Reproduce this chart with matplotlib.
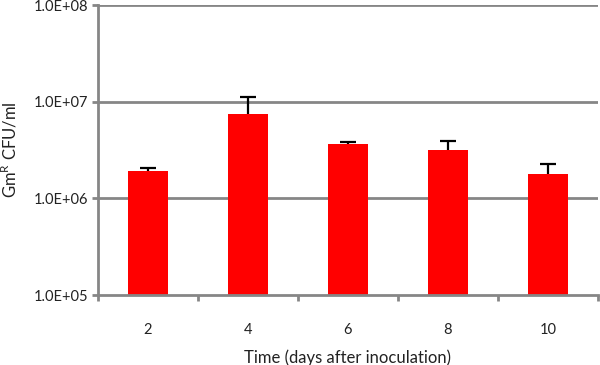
import matplotlib
matplotlib.use("Agg")
import matplotlib.pyplot as plt
import numpy as np
from matplotlib.ticker import FixedLocator, NullLocator

days = ["2", "4", "6", "8", "10"]
means = [1.94e6, 7.5e6, 3.66e6, 3.15e6, 1.78e6]
err_upper = [0.11e6, 3.6e6, 0.21e6, 0.81e6, 0.46e6]
yticks = [1e5, 1e6, 1e7, 1e8]
ytick_labels = ["1.0E+05", "1.0E+06", "1.0E+07", "1.0E+08"]

plt.rcParams['font.family'] = ['Lato', 'DejaVu Sans']
fig = plt.figure(figsize=(6, 3.65), dpi=100)
ax = fig.add_axes([97.7/600, 1-295/365, (598-97.7)/600, (295-5)/365])

x = np.arange(len(days))
gray = "#868686"
ax.set_yscale("log")
ax.set_ylim(1e5, 1e8)
ax.set_xlim(-0.5, len(days)-0.5)
for yv in yticks[1:]:
    ax.axhline(yv, color=gray, lw=2, zorder=1)
ax.bar(x, means, width=0.4, color="#ff0000", zorder=2)
eb = ax.errorbar(x, means, yerr=[np.zeros(len(means)), err_upper], fmt="none",
                 ecolor="black", elinewidth=1.6, capsize=5.8, capthick=1.6, zorder=3)
caps = eb[1]
if len(caps) == 2:
    caps[0].set_visible(False)

ax.yaxis.set_major_locator(FixedLocator(yticks))
ax.yaxis.set_minor_locator(NullLocator())
ax.set_yticklabels(ytick_labels)
ax.set_xticks(x)
ax.set_xticklabels(days)
ax.set_xticks(np.arange(-0.5, len(days)), minor=True)
ax.tick_params(axis="x", which="major", length=0, pad=20, labelsize=10.5, colors="#222222")
ax.tick_params(axis="x", which="minor", length=4, width=2, color=gray)
ax.tick_params(axis="y", which="major", length=4, width=2, color=gray, labelsize=10.5,
               labelcolor="#222222", pad=3)

for s in ["top", "right"]:
    ax.spines[s].set_visible(False)
for s in ["left", "bottom"]:
    ax.spines[s].set_color(gray)
    ax.spines[s].set_linewidth(2)

ax.set_xlabel("Time (days after inoculation)", fontsize=12, color="#222222", labelpad=9)
ax.set_ylabel(r"Gm$^{\mathregular{R}}$ CFU/ml", fontsize=12, color="#222222", labelpad=10)

fig.savefig("out.png", dpi=100)
